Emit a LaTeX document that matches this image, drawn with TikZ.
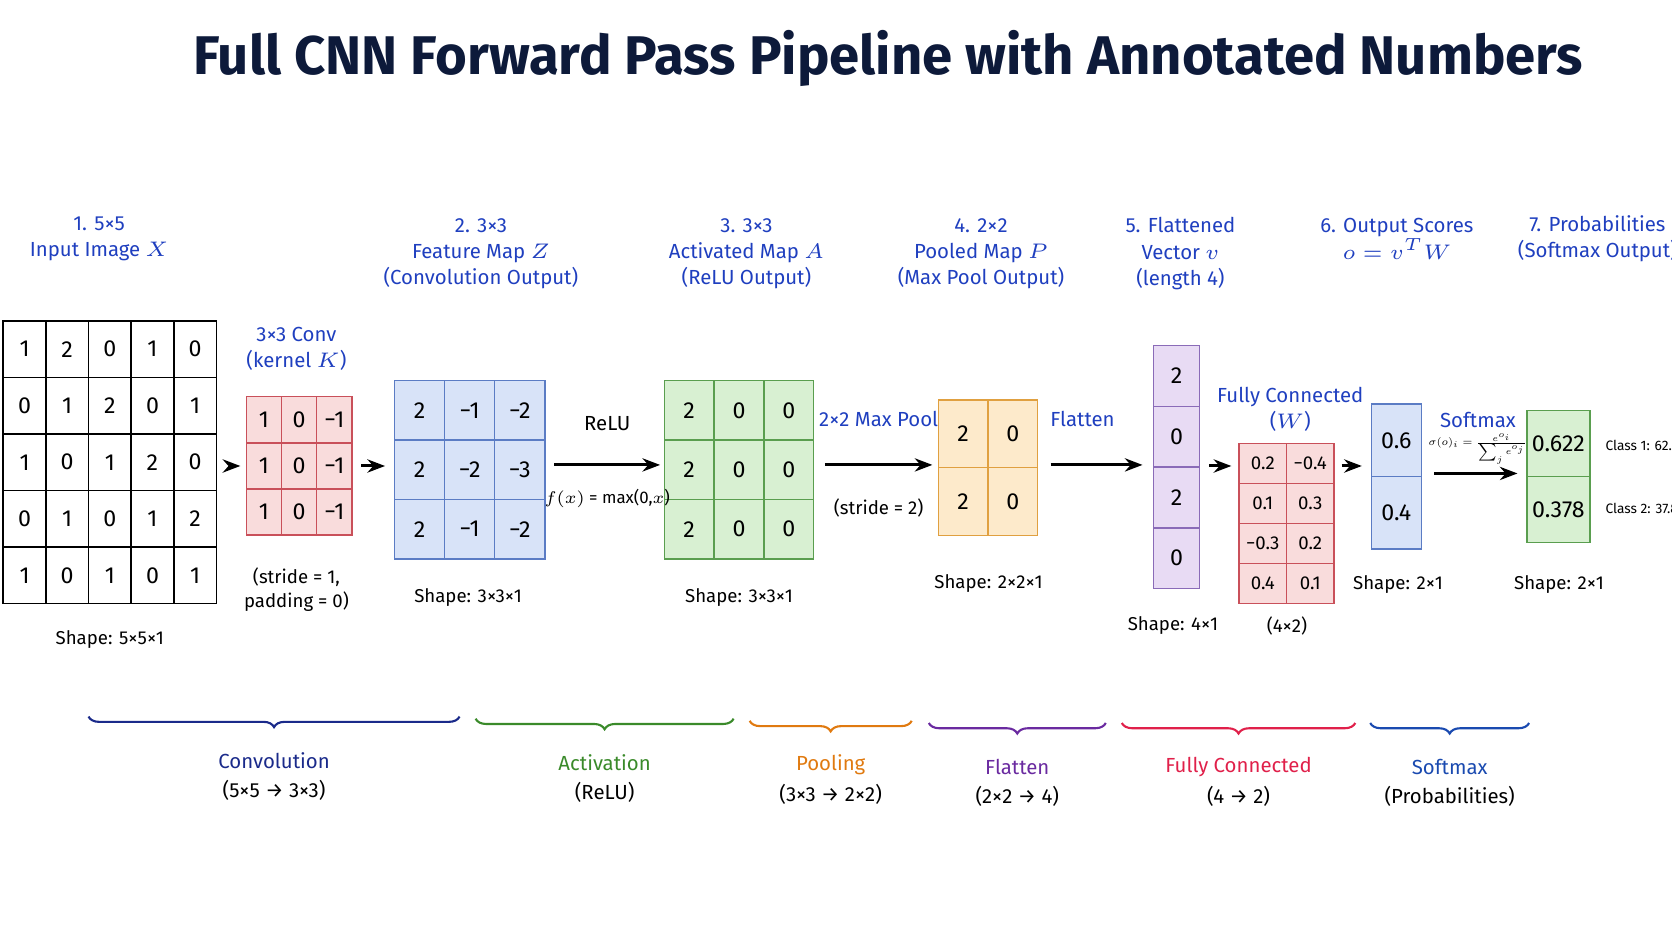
\documentclass[tikz,border=0pt]{standalone}
\usepackage{fontspec}
\setmainfont{Fira Sans}
\usepackage{tikz}
\usetikzlibrary{positioning,arrows.meta,decorations.pathreplacing}

\definecolor{titlenavy}{HTML}{0D1A3A}
\definecolor{headblue}{HTML}{1F3FBF}
\definecolor{redfill}{HTML}{F9DCDC}\definecolor{redline}{HTML}{C9505A}
\definecolor{bluefill}{HTML}{D8E3F8}\definecolor{blueline}{HTML}{5B7CC4}
\definecolor{greenfill}{HTML}{D8F0D2}\definecolor{greenline}{HTML}{5A9E4F}
\definecolor{orangefill}{HTML}{FDEACB}\definecolor{orangeline}{HTML}{E0A040}
\definecolor{purplefill}{HTML}{E8DBF4}\definecolor{purpleline}{HTML}{8A6BB8}
\definecolor{bnavy}{HTML}{1A2A8A}\definecolor{bgreen}{HTML}{3A8A2A}
\definecolor{borange}{HTML}{E07A10}\definecolor{bpurple}{HTML}{6A2AA0}
\definecolor{bpink}{HTML}{E0204A}\definecolor{bblue}{HTML}{1A4AB0}

\tikzset{
  head/.style={text=headblue, font=\fontsize{5.8}{7.5}\selectfont, align=center},
  note/.style={font=\fontsize{5.3}{7}\selectfont, align=center},
  cell/.style={draw, inner sep=0pt, font=\fontsize{6.6}{7.5}\selectfont},
  flow/.style={-{Stealth[length=5pt]}, line width=0.85pt},
  stage/.style={decorate, decoration={brace, mirror, amplitude=3pt}, line width=0.6pt},
  stagename/.style={font=\fontsize{5.8}{7}\selectfont},
}

% name, x0, y0, cell width, cell height, cell style, cols, rows, values
\newcommand\cellgrid[9]{%
  \node[minimum width=#4*#7*0.01066cm, minimum height=#5*#8*0.01066cm, inner sep=0pt]
    (#1) at ({#2+#4*#7/2},{#3+#5*#8/2}) {};
  \foreach \row [count=\r] in {#9} {
    \foreach \v [count=\c] in \row {
      \node[cell, #6, minimum width=#4*0.01066cm, minimum height=#5*0.01066cm]
        (#1-\r-\c) at ({#2+(\c-0.5)*#4},{#3+(\r-0.5)*#5}) {\v};
    }
  }%
}

\begin{document}
\begin{tikzpicture}[x=0.01066cm, y=-0.01066cm]
	% Title
	\node[text=titlenavy, font=\fontsize{15.5}{18}\bfseries\selectfont] (title) at (833,55)
		{Full CNN Forward Pass Pipeline with Annotated Numbers};

	% Headers
	\node[head] (h1) at (93,224) {1. 5×5\\Input Image $X$};
	\node[head] (h2) at (451,238) {2. 3×3\\Feature Map $Z$\\(Convolution Output)};
	\node[head] (h3) at (700,238) {3. 3×3\\Activated Map $A$\\(ReLU Output)};
	\node[head] (h4) at (920,238) {4. 2×2\\Pooled Map $P$\\(Max Pool Output)};
	\node[head] (h5) at (1107,238) {5. Flattened\\Vector $v$\\(length 4)};
	\node[head] (h6) at (1310,224) {6. Output Scores\\$o = v^T W$};
	\node[head] (h7) at (1498,224) {7. Probabilities\\(Softmax Output)};

	% Grids
	\cellgrid{inp}{3}{301}{40}{53}{fill=white}{5}{5}
		{{1,2,0,1,0},{0,1,2,0,1},{1,0,1,2,0},{0,1,0,1,2},{1,0,1,0,1}}
	\cellgrid{kern}{231}{372}{33}{43.3}{fill=redfill, draw=redline}{3}{3}
		{{1,0,−1},{1,0,−1},{1,0,−1}}
	\cellgrid{feat}{370}{357}{47}{55.7}{fill=bluefill, draw=blueline}{3}{3}
		{{2,−1,−2},{2,−2,−3},{2,−1,−2}}
	\cellgrid{act}{623}{357}{46.7}{55.7}{fill=greenfill, draw=greenline}{3}{3}
		{{2,0,0},{2,0,0},{2,0,0}}
	\cellgrid{pool}{880}{375}{46.5}{63.5}{fill=orangefill, draw=orangeline}{2}{2}
		{{2,0},{2,0}}
	\cellgrid{vec}{1082}{324}{43}{57}{fill=purplefill, draw=purpleline}{1}{4}
		{{2},{0},{2},{0}}
	\cellgrid{wmat}{1162}{416}{44.5}{37.5}{fill=redfill, draw=redline, font=\fontsize{5.3}{6}\selectfont}{2}{4}
		{{0.2,−0.4},{0.1,0.3},{−0.3,0.2},{0.4,0.1}}
	\cellgrid{outs}{1286}{379}{47}{68}{fill=bluefill, draw=blueline}{1}{2}
		{{0.6},{0.4}}
	\cellgrid{prob}{1432}{385}{59}{62}{fill=greenfill, draw=greenline}{1}{2}
		{{0.622},{0.378}}

	% Side labels
	\node[head] (convlbl) at (278,327) {3×3 Conv\\(kernel $K$)};
	\node[note] (stride1) at (278,553) {(stride = 1,\\padding = 0)};
	\node[head] (fclbl) at (1210,384) {Fully Connected\\($W$)};
	\node[note] (inshape) at (103,600) {Shape: 5×5×1};
	\node[note] (featshape) at (439,560) {Shape: 3×3×1};
	\node[note] (actshape) at (693,560) {Shape: 3×3×1};
	\node[note] (poolshape) at (927,547) {Shape: 2×2×1};
	\node[note] (vecshape) at (1100,587) {Shape: 4×1};
	\node[note] (wshape) at (1207,587) {(4×2)};
	\node[note] (outshape) at (1311,548) {Shape: 2×1};
	\node[note] (probshape) at (1462,548) {Shape: 2×1};
	\node[font=\fontsize{3.9}{4.5}\selectfont, anchor=west] (cls1) at (1494,418) {Class 1: 62.2\%};
	\node[font=\fontsize{3.9}{4.5}\selectfont, anchor=west] (cls2) at (1494,477) {Class 2: 37.8\%};
	\node[head] (sml) at (1386,394) {Softmax};
	\node[scale=0.5, font=\fontsize{6}{7}\selectfont] (smf) at (1386,421)
		{$\sigma(o)_i=\frac{e^{o_i}}{\sum_j e^{o_j}}$};

	% Arrows
	\draw[flow] ([xshift=5pt]inp.east|-0,437) -- ([xshift=-1.5pt]kern.west|-0,437);
	\draw[flow] ([xshift=2.5pt]kern.east|-0,437) -- ([xshift=-2.5pt]feat.west|-0,437);
	\draw[flow] ([xshift=2.5pt]feat.east|-0,436) -- node[above=6pt, font=\fontsize{5.8}{6.5}\selectfont] (relu) {ReLU}
		node[below=4pt, scale=0.8, font=\fontsize{6}{7}\selectfont] (reluf) {$f(x)$ = max(0,$x$)} ([xshift=-1pt]act.west|-0,436);
	\draw[flow] ([xshift=3pt]act.east|-0,436) -- node[above=7pt, head] (mpl) {2×2 Max Pool}
		node[below=6pt, note] (mps) {(stride = 2)} ([xshift=-1.5pt]pool.west|-0,436);
	\draw[flow] ([xshift=3.5pt]pool.east|-0,436) -- node[above=7pt, head, xshift=-4pt] (flt) {Flatten} ([xshift=-3pt]vec.west|-0,436);
	\draw[flow] ([xshift=2.5pt]vec.east|-0,437) -- ([xshift=-2pt]wmat.west|-0,437);
	\draw[flow] ([xshift=2pt]wmat.east|-0,437) -- ([xshift=-2.5pt]outs.west|-0,437);
	\draw[flow] ([xshift=3.5pt]outs.east|-0,444) -- ([xshift=-2.5pt]prob.west|-0,444);

	% Stages
	\foreach \name/\xa/\xb/\ya/\col/\ttl/\sub in {
		sconv/83/431/672/bnavy/Convolution/(5×5 → 3×3),
		sact/446/688/674/bgreen/Activation/(ReLU),
		spool/703/855/676/borange/Pooling/(3×3 → 2×2),
		sflat/871/1037/678/bpurple/Flatten/(2×2 → 4),
		sfc/1052/1271/678/bpink/Fully Connected/(4 → 2),
		ssoft/1285/1434/678/bblue/Softmax/(Probabilities)} {
		\coordinate (\name-a) at (\xa,\ya);
		\coordinate (\name-b) at (\xb,\ya);
		\draw[stage, \col] (\name-a) -- (\name-b);
		\node[stagename, text=\col] (\name-t) at ({(\xa+\xb)/2},{\ya+41}) {\ttl};
		\node[stagename] (\name-s) at ({(\xa+\xb)/2},{\ya+69}) {\sub};
	}

	\pgfresetboundingbox
	\path[use as bounding box] (0,0) rectangle (1568,882.5);
\end{tikzpicture}
\end{document}
